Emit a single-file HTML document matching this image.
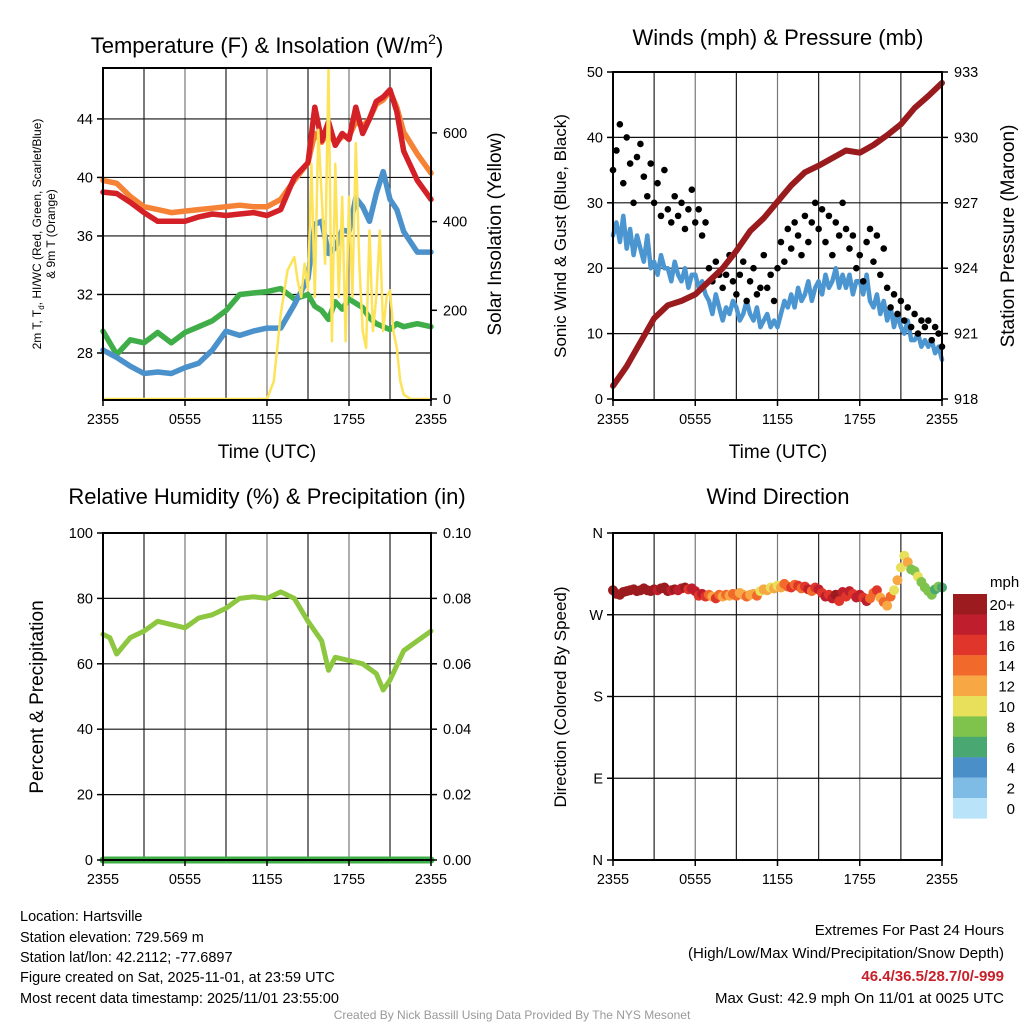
<!DOCTYPE html>
<html><head><meta charset="utf-8">
<style>
html,body{margin:0;padding:0;background:#fff;}
svg{display:block;font-family:"Liberation Sans",Arial,sans-serif;}
</style></head>
<body>
<svg id="chart" width="1024" height="1024" viewBox="0 0 1024 1024" xmlns="http://www.w3.org/2000/svg">
<g id="grids"></g>
<g id="marks"></g>
<g id="frames"></g>
<g id="labels" fill="#000">
<text x="267" y="53" font-size="22" text-anchor="middle">Temperature (F) &amp; Insolation (W/m<tspan dy="-9" font-size="14">2</tspan><tspan dy="9">)</tspan></text>
<text transform="translate(41,234) rotate(-90)" font-size="12" text-anchor="middle">2m T, T<tspan dy="3" font-size="8">d</tspan><tspan dy="-3">, HI/WC (Red, Green, Scarlet/Blue)</tspan></text>
<text transform="translate(55,234) rotate(-90)" font-size="12" text-anchor="middle">&amp; 9m T (Orange)</text>
<text transform="translate(501,234) rotate(-90)" font-size="19" text-anchor="middle">Solar Insolation (Yellow)</text>
<text x="267" y="458" font-size="19" text-anchor="middle">Time (UTC)</text>

<text x="778" y="45" font-size="22" text-anchor="middle">Winds (mph) &amp; Pressure (mb)</text>
<text transform="translate(566,236) rotate(-90)" font-size="17" text-anchor="middle">Sonic Wind &amp; Gust (Blue, Black)</text>
<text transform="translate(1014,236) rotate(-90)" font-size="19" text-anchor="middle">Station Pressure (Maroon)</text>
<text x="778" y="458" font-size="19" text-anchor="middle">Time (UTC)</text>

<text x="267" y="504" font-size="22" text-anchor="middle">Relative Humidity (%) &amp; Precipitation (in)</text>
<text transform="translate(43,697) rotate(-90)" font-size="19" text-anchor="middle">Percent &amp; Precipitation</text>

<text x="778" y="504" font-size="22" text-anchor="middle">Wind Direction</text>
<text transform="translate(566,697) rotate(-90)" font-size="17" text-anchor="middle">Direction (Colored By Speed)</text>
<text x="990" y="587" font-size="15">mph</text>

<g font-size="14.5">
<text x="20" y="921">Location: Hartsville</text>
<text x="20" y="942">Station elevation: 729.569 m</text>
<text x="20" y="962">Station lat/lon: 42.2112; -77.6897</text>
<text x="20" y="982">Figure created on Sat, 2025-11-01, at 23:59 UTC</text>
<text x="20" y="1003">Most recent data timestamp: 2025/11/01 23:55:00</text>
</g>
<g font-size="15" text-anchor="end">
<text x="1004" y="935">Extremes For Past 24 Hours</text>
<text x="1004" y="958">(High/Low/Max Wind/Precipitation/Snow Depth)</text>
<text x="1004" y="981" fill="#c8202a" font-weight="bold">46.4/36.5/28.7/0/-999</text>
<text x="1004" y="1003">Max Gust: 42.9 mph On 11/01 at 0025 UTC</text>
</g>
<text x="512" y="1019" font-size="12" fill="#999" text-anchor="middle">Created By Nick Bassill Using Data Provided By The NYS Mesonet</text>
</g>
</svg>
<script>
// ---------- data ----------
const hourTimes = [0,1,2,3,4,5,6,7,8,9,10,11,12,13,14,15,16,17,18,19,20,21,22,23,24];
const tempTimes = [0,1,2,3,4,5,6,7,8,9,10,11,12,13,14,15,15.5,16,16.5,17,17.5,18,18.5,19,19.5,20,20.5,21,21.5,22,23,24];
const tempRed = [39.0,38.9,38.3,37.6,37.0,37.0,37.0,37.3,37.5,37.4,37.5,37.6,37.4,37.8,40.0,41.0,44.8,42.5,43.8,42.2,43.0,42.6,44.8,43.0,44.0,45.2,45.5,46.0,44.5,41.8,39.8,38.5];
const tempOrange = [39.8,39.6,38.7,38.0,37.8,37.6,37.7,37.8,37.9,38.0,38.1,38.0,38.0,38.5,39.8,41.0,43.0,42.4,43.2,42.3,42.8,42.8,43.8,43.5,44.0,45.0,45.3,45.9,44.8,43.1,41.6,40.3];
const tempGreen = [29.5,27.9,28.9,28.7,29.4,28.7,29.4,29.8,30.2,30.9,32.0,32.1,32.2,32.4,31.7,32.0,31.2,30.9,30.3,31.5,31.0,31.7,31.4,31.1,30.4,30.0,29.8,29.6,30.0,29.8,30.0,29.8];
const tempBlue = [28.2,27.7,27.1,26.6,26.7,26.6,27.0,27.3,28.2,29.5,29.2,29.5,29.7,29.7,31.3,33.1,36.8,37.0,34.8,35.2,36.4,36.3,38.6,38.0,37.0,38.9,40.4,38.5,37.8,36.3,34.9,34.9];
const solarTimes = [0,12,12.5,13,13.5,14,14.25,14.5,14.75,15,15.25,15.5,15.75,16,16.25,16.5,16.75,17,17.25,17.5,17.75,18,18.25,18.5,18.75,19,19.25,19.5,19.75,20,20.25,20.5,20.75,21,21.25,21.5,21.75,22,22.5,24];
const solarVals = [0,0,40,190,290,320,265,230,305,245,530,230,607,456,305,745,130,530,230,456,130,456,230,577,305,153,115,380,153,230,380,153,230,245,153,115,40,10,0,0];

const windTimes = Array.from({length:97},(_, i)=>i/4);
const windSpeed = [25,27,24,28, 23,26,22,25, 23,21,25,20, 21,19,22,20, 20,18,21,19, 18,20,17,19, 19,17,18,16, 15,13,16,14, 12,14,13,15, 14,12,13,15, 13,12,14,11, 12,13,11,12, 11,13,15,14, 16,14,17,15, 16,18,15,17, 18,16,19,17, 18,20,17,19, 17,19,16,18, 18,16,19,15, 14,16,13,15, 12,14,11,13, 11,10,12,9, 9,10,8,9, 8,9,7,8, 6];
const windGust = [35,38,42,33, 40,36,30,37, 39,34,31,36, 30,33,28,35, 29,27,31,28, 30,26,29,32, 27,29,25,27, 20,18,21,19, 17,19,22,18, 16,19,21,15, 18,20,16,17, 22,17,19,15, 20,24,21,26, 23,27,25,22, 28,24,27,30, 26,29,24,28, 22,27,25,30, 26,23,25,20, 22,18,24,26, 21,25,19,23, 17,14,16,13, 15,12,14,11, 13,10,12,11, 12,9,11,10, 8];
const windDir = [297,293,292,295, 296,297,298,296, 297,299,297,296, 298,297,299,300, 296,297,298,297, 299,300,298,299, 296,291,293,290, 292,290,288,292, 290,292,291,293, 291,294,292,290, 292,293,291,296, 298,297,300,299, 302,300,304,301, 300,303,302,299, 301,298,296,300, 298,294,290,292, 288,292,285,295, 290,296,293,289, 292,289,285,288, 294,297,289,284, 280,290,297,308, 322,335,328,320, 318,312,306,300, 296,292,298,301, 300];
const pressVals = [918.6,919.5,920.6,921.7,922.3,922.5,922.8,923.4,924.0,924.8,925.7,926.3,927.05,927.8,928.4,928.7,929.05,929.4,929.3,929.65,930.1,930.6,931.35,931.9,932.5];

const rhTimes = [0,0.5,1,2,3,4,5,6,7,8,9,10,11,12,13,14,15,16,16.5,17,18,19,20,20.5,21,22,23,24];
const rhVals = [69,68,63,68,70,73,72,71,74,75,77,80,80.5,80,82,80,73,67,58,62,61,60,57,52,55,64,67,70];
const precipVals = [0,0];

const xTickLabels = ["2355","0555","1155","1755","2355"];
const tempTicks = [28,32,36,40,44];
const solarTicks = [0,200,400,600];
const windTicks = [0,10,20,30,40,50];
const pressTicks = [918,921,924,927,930,933];
const rhTicks = [0,20,40,60,80,100];
const precipTicks = ["0.00","0.02","0.04","0.06","0.08","0.10"];
const dirTicks = ["N","E","S","W","N"];
const cbarLabels = ["20+","18","16","14","12","10","8","6","4","2","0"];
const cbarColors = ["#9b1b1e","#bf1e2d","#e0352b","#f26a2b","#f7a844","#e8e05a","#7fc34d","#49a872","#4a8fc7","#7ebbe5","#b9e3f8"];

// ---------- axes ----------
const NS="http://www.w3.org/2000/svg";
function mk(tag, attrs, parent){const e=document.createElementNS(NS,tag);for(const k in attrs)e.setAttribute(k,attrs[k]);(parent||document.getElementById('marks')).appendChild(e);return e;}
const P1={x0:103,x1:431,y0:68,y1:400};
const P2={x0:613,x1:942,y0:72,y1:400};
const P3={x0:103,x1:431,y0:533,y1:860};
const P4={x0:613,x1:942,y0:533,y1:860};
const tx=(P,h)=>P.x0+(P.x1-P.x0)*h/24;
const yTemp=v=>353-(v-28)*14.63;
const ySolar=v=>399-v*0.4435;
const yWind=v=>399-v*6.54;
const yPress=v=>399-(v-918)*21.8;
const yRH=v=>860-v*3.27;
const yPrecip=v=>860-v*3270;
const yDir=v=>860-v*(327/360);

const grids=document.getElementById('grids'), frames=document.getElementById('frames'), labels=document.getElementById('labels');
function panel(P,name,hLines){
  for(let k=1;k<8;k++){const x=tx(P,k*3);const l=mk('line',{x1:x,x2:x,y1:P.y0,y2:P.y1,stroke:k%2? '#222':'#777','stroke-width':1.2},grids);
    
    }
  hLines.forEach(y=>{const l=mk('line',{x1:P.x0,x2:P.x1,y1:y,y2:y,stroke:'#111','stroke-width':1.2},grids);
    
    });
  const r=mk('rect',{x:P.x0,y:P.y0,width:P.x1-P.x0,height:P.y1-P.y0,fill:'none',stroke:'#000','stroke-width':2},frames);
  
  
  xTickLabels.forEach((t,i)=>{const x=tx(P,i*6);
    mk('line',{x1:x,x2:x,y1:P.y1,y2:P.y1+6,stroke:'#000','stroke-width':1.5},frames);
    const e=mk('text',{x:x,y:P.y1+24,'font-size':14.5,'text-anchor':'middle'},labels);e.textContent=t;
    
    });
}
function yLabels(P,ticks,fn,vals,side,name){
  ticks.forEach((t,i)=>{const y=fn(vals?vals[i]:t);
    const x=side==='l'?P.x0:P.x1;
    mk('line',{x1:x,x2:side==='l'?x-6:x+6,y1:y,y2:y,stroke:'#000','stroke-width':1.5},frames);
    const e=mk('text',{x:side==='l'?P.x0-10:P.x1+12,y:y+5,'font-size':14.5,'text-anchor':side==='l'?'end':'start'},labels);
    e.textContent=t;
    
    });
}
function line(xs,ys,P,yfn,color,w,name){
  const d=xs.map((h,i)=>(i?'L':'M')+tx(P,h).toFixed(1)+','+yfn(ys[i]).toFixed(1)).join('');
  const p=mk('path',{d:d,fill:'none',stroke:color,'stroke-width':w,'stroke-linejoin':'round','stroke-linecap':'round'});
  
  
}

// Panel 1
panel(P1,'temp',tempTicks.map(yTemp));
yLabels(P1,tempTicks,yTemp,null,'l','temp-y');
yLabels(P1,solarTicks,ySolar,null,'r','solar-y');
line(tempTimes,tempOrange,P1,yTemp,'#f58235',5.5,'9m-temp-line');
line(tempTimes,tempGreen,P1,yTemp,'#3fae49',5.5,'dewpoint-line');
line(tempTimes,tempBlue,P1,yTemp,'#4b92cc',5.5,'wind-chill-line');
line(tempTimes,tempRed,P1,yTemp,'#d42027',5.5,'2m-temp-line');
line(solarTimes,solarVals,P1,ySolar,'#fde35a',2.5,'solar-insolation-line');

// Panel 2
panel(P2,'wind',windTicks.slice(1,5).map(yWind));
yLabels(P2,windTicks,yWind,null,'l','wind-y');
yLabels(P2,pressTicks,yPress,null,'r','pressure-y');
line(windTimes,windSpeed,P2,yWind,'#4b95d1',4.5,'sonic-wind-line');
windGust.forEach((g,i)=>{const c=mk('circle',{cx:tx(P2,windTimes[i]),cy:yWind(g),r:3.3,fill:'#000'});
  
  });
line(hourTimes,pressVals,P2,yPress,'#991b1e',6,'pressure-line');

// Panel 3
panel(P3,'rh',rhTicks.slice(1,5).map(yRH));
yLabels(P3,rhTicks,yRH,null,'l','rh-y');
yLabels(P3,precipTicks,yPrecip,[0,0.02,0.04,0.06,0.08,0.10],'r','precip-y');
line(rhTimes,rhVals,P3,yRH,'#8dc63f',5,'relative-humidity-line');
line([0,24],precipVals,P3,yPrecip,'#3fae49',7,'precipitation-line');

// Panel 4
panel(P4,'direction',[90,180,270].map(yDir));
yLabels(P4,dirTicks,yDir,[0,90,180,270,360],'l','direction-y');
function colorFor(s){const bin=Math.min(10,Math.floor(s/2));return cbarColors[10-bin];}
windDir.forEach((d,i)=>{const c=mk('circle',{cx:tx(P4,windTimes[i]),cy:yDir(d),r:5,fill:colorFor(windSpeed[i])});
  
  });
cbarColors.forEach((col,i)=>{const y=594+i*20.4;
  const r=mk('rect',{x:953,y:y,width:34,height:20.6,fill:col},frames);
  
  
  const t=mk('text',{x:1015,y:y+16,'font-size':15,'text-anchor':'end'},labels);t.textContent=cbarLabels[i];
  
  });
</script>
</body></html>
